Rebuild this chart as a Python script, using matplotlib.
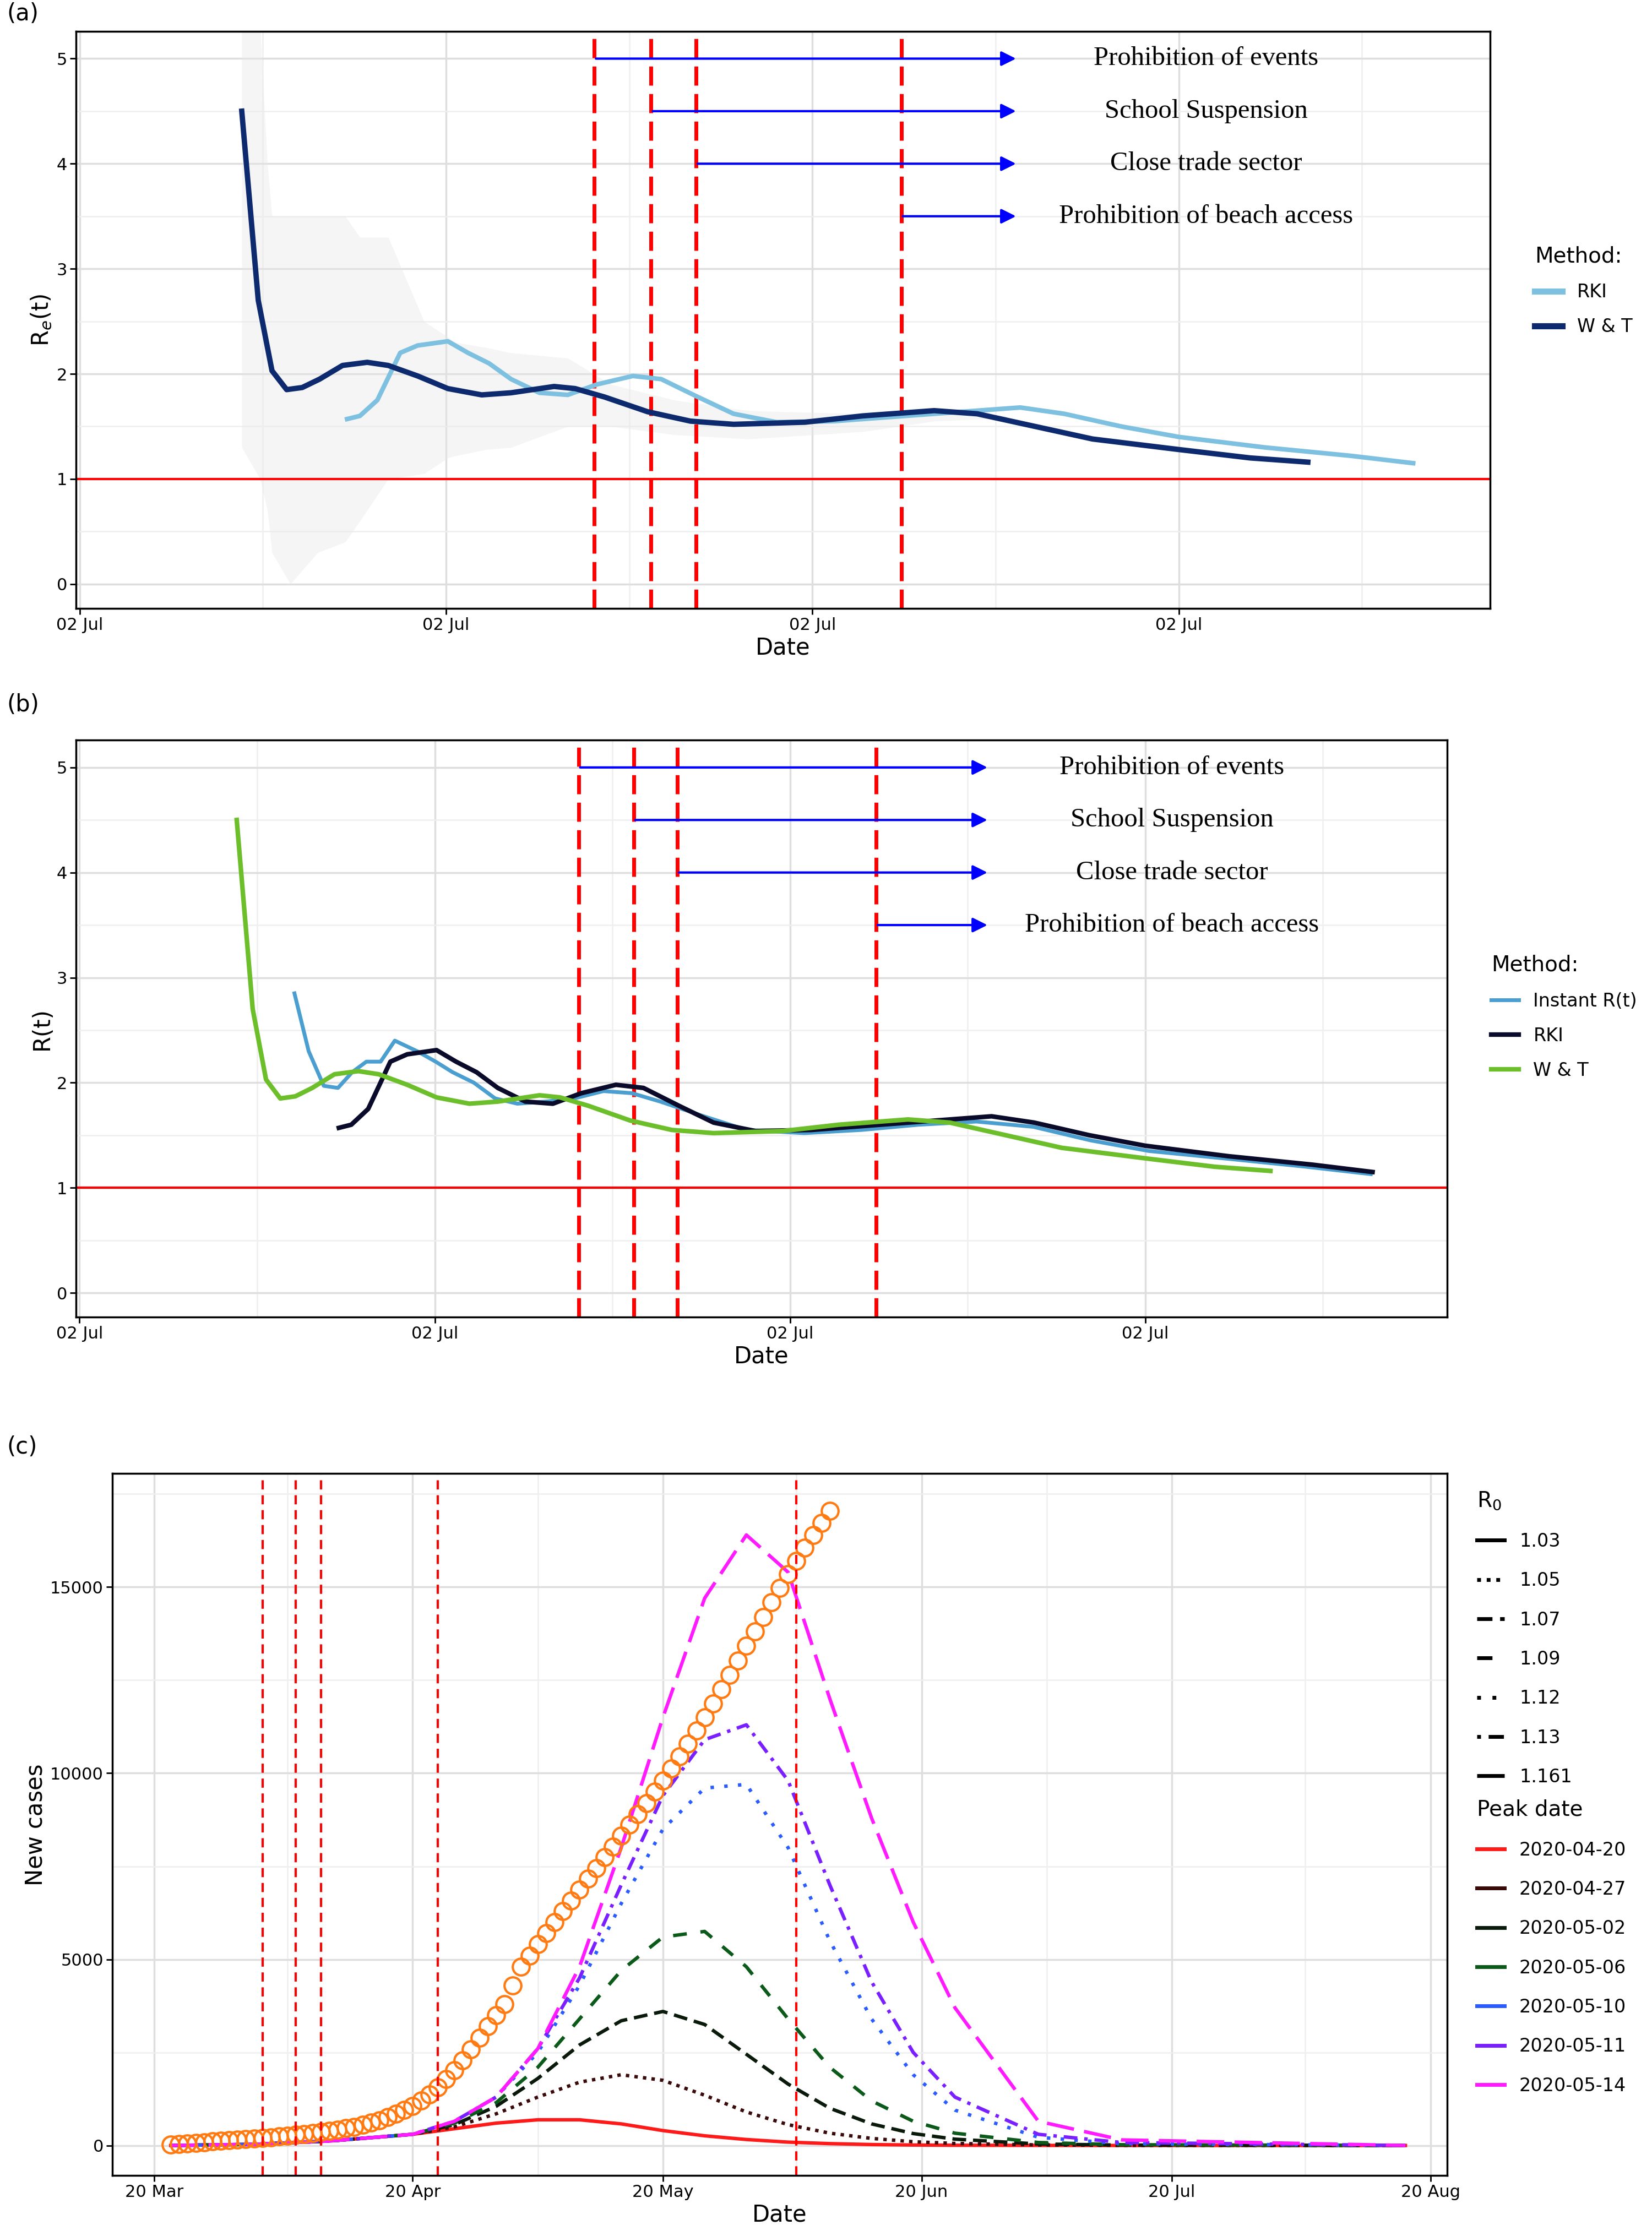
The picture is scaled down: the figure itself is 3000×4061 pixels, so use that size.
import matplotlib
matplotlib.use("Agg")
import matplotlib.pyplot as plt
from matplotlib.lines import Line2D
import numpy as np
import datetime as dt

# ---------------- data panels (a),(b) : x in days ----------------
wt_day = [17.7,19.5,21.0,22.6,24.3,26.2,28.7,31.4,33.7,36.9,40.2,43.9,47.1,51.8,54.1,57.3,62.0,66.7,71.4,79.2,85.5,93.3,98.0,104.3,110.6,120.0,127.8,134.1]
wt_val = [4.5,2.7,2.03,1.85,1.87,1.95,2.08,2.11,2.08,1.98,1.86,1.8,1.82,1.88,1.86,1.78,1.64,1.55,1.52,1.54,1.6,1.65,1.62,1.5,1.38,1.28,1.2,1.16]
rki_day = [29.2,30.6,32.5,35.0,36.9,40.2,42.4,44.7,47.1,50.2,53.3,56.5,60.4,63.5,67.5,71.4,76.1,82.4,90.2,98.0,102.7,107.5,113.7,120.0,129.4,138.8,145.6]
rki_val = [1.57,1.6,1.75,2.2,2.27,2.31,2.2,2.1,1.95,1.82,1.8,1.9,1.98,1.95,1.78,1.62,1.54,1.55,1.6,1.65,1.68,1.62,1.5,1.4,1.3,1.22,1.15]
rib_day = [17.7,19.7,20.5,21.0,23.0,26.0,29.0,30.6,33.7,37.6,40.2,41.0,44.4,47.1,53.3,58.0,65.0,73.0,85.5,93.3,101.2]
rib_hi = [5.3,5.3,4.0,3.5,3.5,3.5,3.5,3.3,3.3,2.5,2.35,2.3,2.25,2.2,2.15,1.9,1.75,1.65,1.62,1.65,1.6]
rib_lo = [1.3,1.0,0.7,0.3,0.0,0.3,0.4,0.6,1.0,1.05,1.2,1.22,1.28,1.3,1.5,1.5,1.42,1.38,1.45,1.55,1.58]
inst_day = [24.2,25.8,27.5,29.1,30.7,32.3,33.9,35.5,38.0,40.1,42.0,44.4,46.8,49.3,52.5,55.7,59.0,62.2,65.4,70.3,75.1,81.6,88.0,94.5,101.0,107.4,113.9,120.4,130.0,138.1,145.4]
inst_val = [2.85,2.3,1.97,1.95,2.1,2.2,2.2,2.4,2.3,2.2,2.1,2.0,1.85,1.8,1.82,1.85,1.92,1.9,1.82,1.68,1.55,1.52,1.55,1.6,1.63,1.58,1.45,1.35,1.27,1.2,1.13]
interv_day = [56.2, 62.4, 67.3, 89.7]
interv_lab = ["Prohibition of events", "School Suspension", "Close trade sector", "Prohibition of beach access"]
interv_y = [5, 4.5, 4, 3.5]
tick_days = [0, 40, 80, 120]
tick_labels = ["02 Jul"] * 4

# ---------------- data panel (c) ----------------
obs_start = dt.date(2020, 3, 22)
obs_vals = [30,45,60,75,90,105,120,135,150,165,
            180,200,220,240,260,285,310,335,360,390,
            420,460,500,550,610,680,760,850,950,1060,
            1200,1370,1560,1780,2020,2290,2580,2890,3210,3500,
            3800,4300,4800,5100,5400,5700,6000,6290,6580,6870,
            7160,7450,7740,8030,8320,8610,8900,9200,9500,9800,
            10120,10450,10790,11140,11500,11870,12250,12640,13030,13420,13810,
            14200,14590,14970,15340,15700,16050,16390,16720,17050]
mod_dates = ["2020-03-22","2020-04-01","2020-04-10","2020-04-20","2020-04-25","2020-04-30","2020-05-05","2020-05-10",
             "2020-05-15","2020-05-20","2020-05-25","2020-05-30","2020-06-04","2020-06-09","2020-06-14","2020-06-19",
             "2020-06-24","2020-07-04","2020-07-14","2020-08-17"]
r0_labels = ["1.03","1.05","1.07","1.09","1.12","1.13","1.161"]
peak_labels = ["2020-04-20","2020-04-27","2020-05-02","2020-05-06","2020-05-10","2020-05-11","2020-05-14"]
mod_vals = [
 [0,30,120,300,450,600,690,690,580,400,260,160,90,50,25,12,6,2,0,0],
 [0,30,120,300,500,850,1300,1700,1900,1750,1350,900,560,330,190,100,55,15,4,0],
 [0,30,120,300,560,1050,1800,2700,3350,3600,3250,2450,1650,1000,580,320,170,40,10,0],
 [0,30,120,300,600,1150,2100,3400,4700,5600,5750,4800,3400,2100,1200,650,330,80,20,0],
 [0,30,120,300,650,1300,2500,4300,6500,8500,9600,9700,8000,5500,3400,1900,950,220,50,0],
 [0,30,120,300,650,1300,2600,4500,7000,9400,10900,11300,9800,7000,4400,2500,1300,300,80,0],
 [0,30,120,300,650,1300,2600,4800,8000,11500,14700,16400,15400,12000,8800,6000,3700,650,150,0],
]
c_vlines = ["2020-04-02","2020-04-06","2020-04-09","2020-04-23","2020-06-05"]

# styles
peak_cols = ["#ff1a1a", "#3a0a0a", "#0a1a0a", "#0b5a1a", "#2a5cff", "#7a1fff", "#ff1aff"]
r0_ls = ["-", (0,(1,1.5)), (0,(4,2)), (0,(4,4)), (0,(1,3)), (0,(1,2,4,2)), (0,(8,3))]

plt.rcParams['font.family'] = ['DejaVu Sans']
fig = plt.figure(figsize=(30, 40.61), dpi=100)
GRID = "#dedede"; MINOR = "#efefef"

def style(ax):
    ax.set_facecolor("white")
    ax.grid(True, which="major", color=GRID, lw=2.5)
    ax.grid(True, which="minor", color=MINOR, lw=1.8)
    ax.set_axisbelow(True)
    for s in ax.spines.values():
        s.set_linewidth(2.5); s.set_color("black")
    ax.tick_params(labelsize=22, width=2, length=8)
    ax.tick_params(which="minor", length=0)

def rpanel(rect, ylabel):
    ax = fig.add_axes(rect)
    style(ax)
    ax.set_xlim(-0.4, 154)
    ax.set_ylim(-0.23, 5.26)
    ax.set_xticks(tick_days); ax.set_xticklabels(tick_labels)
    ax.set_xticks([20, 60, 100, 140], minor=True)
    ax.set_yticks([0,1,2,3,4,5]); ax.set_yticks([0.5,1.5,2.5,3.5,4.5], minor=True)
    ax.set_xlabel("Date", fontsize=30)
    ax.set_ylabel(ylabel, fontsize=30)
    ax.axhline(1, color="red", lw=3)
    for d in interv_day:
        ax.axvline(d, color="red", lw=5, ls=(0, (5, 2.2)))
    for d, y, lab in zip(interv_day, interv_y, interv_lab):
        ax.annotate("", xy=(102.4, y), xytext=(d, y),
                    arrowprops=dict(arrowstyle="-|>", color="blue", lw=3, mutation_scale=40))
        ax.text(123, y, lab, fontsize=35, family="Liberation Serif", ha="center", va="center")
    return ax

# (a)
axa = rpanel([0.046, 0.728, 0.856, 0.258], "R$_e$(t)")
axa.fill_between(rib_day, rib_lo, rib_hi, color="#e8e8e8", alpha=0.4, lw=0)
axa.plot(rki_day, rki_val, color="#7ec0e0", lw=6)
axa.plot(wt_day, wt_val, color="#0d2a6e", lw=7)
leg = axa.legend([Line2D([], [], color="#7ec0e0", lw=8), Line2D([], [], color="#0d2a6e", lw=8)],
                 ["RKI", "W & T"], title="Method:", loc="center left", bbox_to_anchor=(1.02, 0.55),
                 frameon=False, fontsize=24, title_fontsize=28, handlelength=1.5, labelspacing=0.9)
leg._legend_box.align = "left"

# (b)
axb = rpanel([0.046, 0.411, 0.830, 0.258], "R(t)")
lb1, = axb.plot(inst_day, inst_val, color="#4a9fd0", lw=5)
lb2, = axb.plot(rki_day, rki_val, color="#0a0a2a", lw=6)
lb3, = axb.plot(wt_day, wt_val, color="#6cbf2a", lw=6)
leg = axb.legend([lb1, lb2, lb3], ["Instant R(t)", "RKI", "W & T"], title="Method:", loc="center left",
                 bbox_to_anchor=(1.02, 0.52), frameon=False, fontsize=24, title_fontsize=28,
                 handlelength=1.5, labelspacing=0.9)
leg._legend_box.align = "left"

# (c)
axc = fig.add_axes([0.068, 0.027, 0.808, 0.314])
style(axc)
dates = [np.datetime64(d) for d in mod_dates]
for vals, col, ls in zip(mod_vals, peak_cols, r0_ls):
    axc.plot(dates, vals, color=col, ls=ls, lw=4.5)
obs_dates = [np.datetime64(obs_start + dt.timedelta(days=i)) for i in range(len(obs_vals))]
axc.plot(obs_dates, obs_vals, ls="none", marker="o", ms=22, mfc="none", mec="#ff7a10", mew=3)
for d in c_vlines:
    axc.axvline(np.datetime64(d), color="red", lw=3, ls=(0, (4, 2.5)))
axc.set_xlim(np.datetime64("2020-03-15"), np.datetime64("2020-08-22"))
axc.set_ylim(-810, 18050)
xt = ["2020-03-20","2020-04-20","2020-05-20","2020-06-20","2020-07-20","2020-08-20"]
axc.set_xticks([np.datetime64(d) for d in xt])
axc.set_xticklabels(["20 Mar","20 Apr","20 May","20 Jun","20 Jul","20 Aug"])
axc.set_xticks([np.datetime64(d) for d in ["2020-04-05","2020-05-05","2020-06-05","2020-07-05","2020-08-05"]], minor=True)
axc.set_yticks([0, 5000, 10000, 15000]); axc.set_yticks([2500, 7500, 12500, 17500], minor=True)
axc.set_xlabel("Date", fontsize=30); axc.set_ylabel("New cases", fontsize=30)
h1 = [Line2D([], [], color="black", ls=ls, lw=5) for ls in r0_ls]
leg1 = axc.legend(h1, r0_labels, title="R$_0$", loc="upper left", bbox_to_anchor=(1.01, 1.0),
                  frameon=False, fontsize=24, title_fontsize=28, handlelength=1.5, labelspacing=1.15)
leg1._legend_box.align = "left"
axc.add_artist(leg1)
h2 = [Line2D([], [], color=c, lw=5) for c in peak_cols]
leg2 = axc.legend(h2, peak_labels, title="Peak date", loc="upper left", bbox_to_anchor=(1.01, 0.56),
                  frameon=False, fontsize=24, title_fontsize=28, handlelength=1.5, labelspacing=1.15)
leg2._legend_box.align = "left"

fig.text(0.004, 0.999, "(a)", fontsize=30, va="top")
fig.text(0.004, 0.690, "(b)", fontsize=30, va="top")
fig.text(0.004, 0.358, "(c)", fontsize=30, va="top")
fig.savefig("out.png", dpi=100)
